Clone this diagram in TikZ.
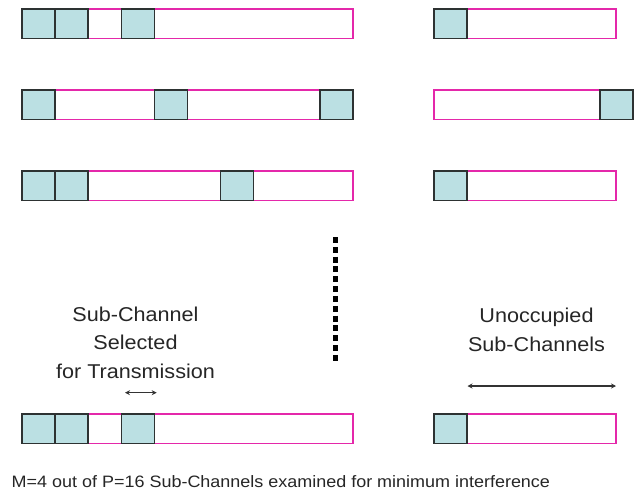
\documentclass[tikz,border=0pt]{standalone}
\usepackage{fontspec}
\setmainfont{Liberation Sans}
\usetikzlibrary{arrows.meta}
\definecolor{barpink}{RGB}{228,40,170}
\definecolor{slotfill}{RGB}{187,224,227}
\definecolor{slotline}{RGB}{45,50,50}
\begin{document}
\begin{tikzpicture}[x=1pt,y=-1pt,
  bar/.style={draw=barpink,line width=1.6pt},
  slot/.style={draw=slotline,fill=slotfill,line width=1.8pt},
  lbl/.style={font=\fontsize{20}{28.5}\selectfont,align=center,inner sep=0pt,anchor=north,xscale=1.08,text=black!85},
  dim/.style={{Stealth[length=5pt,width=5pt]}-{Stealth[length=5pt,width=5pt]},line width=1.2pt,black!80}
]
\useasboundingbox (0,0) rectangle (640,493);
\def\sw{33.04}
% left bars: #1 top y, #2 list of slot indices
\newcommand\leftbar[2]{%
  \draw[bar] (22.3,#1) rectangle (352.7,#1+29.5);
  \foreach \k in {#2} {\draw[slot] (22.3+\k*\sw,#1) rectangle (22.3+\k*\sw+\sw,#1+29.5);}
}
\leftbar{9}{0,1,3}
\leftbar{90}{0,4,9}
\leftbar{171}{0,1,6}
\leftbar{414}{0,1,3}
% right bars
\draw[bar] (433.7,9) rectangle (615.8,38.5);
\draw[slot] (433.7,9) rectangle (466.7,38.5);
\draw[bar] (433.7,90) rectangle (632.6,119.5);
\draw[slot] (599.6,90) rectangle (632.6,119.5);
\draw[bar] (433.7,171) rectangle (615.8,200.5);
\draw[slot] (433.7,171) rectangle (466.7,200.5);
\draw[bar] (433.7,414) rectangle (615.8,443.5);
\draw[slot] (433.7,414) rectangle (466.7,443.5);
% dotted separator
\coordinate (dtop) at (335,237);
\coordinate (dbot) at (335,361);
\draw[line width=5pt,dash pattern=on 6pt off 3.83pt] (dtop) -- (dbot);
% labels
\node[lbl] (sel) at (135.5,306.5) {Sub-Channel\\Selected\\for Transmission};
\node[lbl] (unocc) at (536.5,308.2) {Unoccupied\\Sub-Channels};
\coordinate (a1) at (125,392.7);
\coordinate (a2) at (156.7,392.7);
\draw[dim] (a1) -- (a2);
\coordinate (b1) at (467.5,386);
\coordinate (b2) at (616,386);
\draw[dim] (b1) -- (b2);
\node[font=\fontsize{16.5}{20}\selectfont,inner sep=0pt,anchor=north west,xscale=1.089,text=black!85] (cap) at (11.5,475) {M=4 out of P=16 Sub-Channels examined for minimum interference};
\end{tikzpicture}
\end{document}
